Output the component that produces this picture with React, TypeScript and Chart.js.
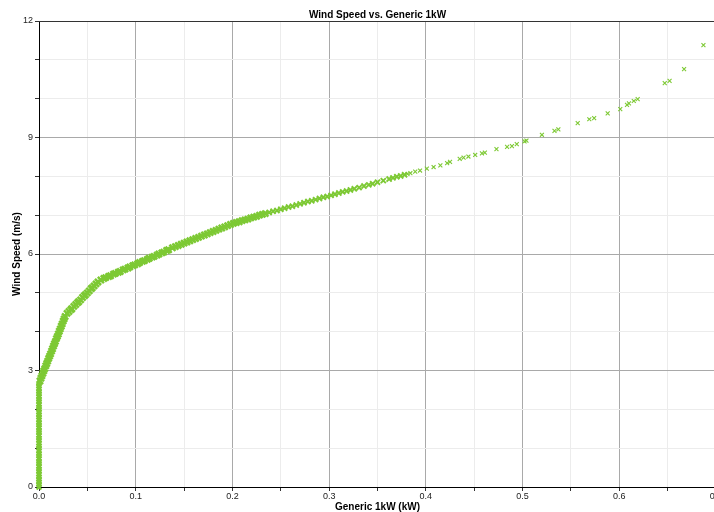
import { useEffect, useRef } from 'react';
import { Chart, registerables } from 'chart.js';

Chart.register(...registerables);

// ---- Data ----
const chartTitle = 'Wind Speed vs. Generic 1kW';
const xAxisTitle = 'Generic 1kW (kW)';
const yAxisTitle = 'Wind Speed (m/s)';

// Hours below cut-in: output 0 kW
const calmWindSpeed = [
  0.0, 0.07, 0.13, 0.2, 0.26, 0.33, 0.4, 0.46, 0.53, 0.6, 0.66, 0.73, 0.8, 0.86,
  0.93, 1.0, 1.06, 1.13, 1.2, 1.26, 1.33, 1.4, 1.46, 1.53, 1.6, 1.66, 1.73, 1.8,
  1.86, 1.93, 2.0, 2.06, 2.13, 2.2, 2.26, 2.33, 2.4, 2.46, 2.53, 2.6, 2.66,
];

const rampPower = [
  0.001, 0.002, 0.003, 0.004, 0.005, 0.006, 0.007, 0.008, 0.009, 0.01, 0.011,
  0.012, 0.013, 0.014, 0.015, 0.016, 0.017, 0.018, 0.019, 0.02, 0.021, 0.022,
  0.023, 0.024, 0.025, 0.026, 0.027, 0.029, 0.031, 0.033, 0.034, 0.036, 0.038,
  0.04, 0.041, 0.043, 0.045, 0.047, 0.048, 0.05, 0.052, 0.054, 0.055, 0.057,
  0.059, 0.061,
];
const rampWindSpeed = [
  2.73, 2.8, 2.86, 2.93, 2.99, 3.05, 3.12, 3.18, 3.24, 3.31, 3.37, 3.43, 3.5,
  3.56, 3.63, 3.69, 3.75, 3.82, 3.88, 3.94, 4.01, 4.07, 4.14, 4.2, 4.27, 4.33,
  4.39, 4.47, 4.52, 4.57, 4.59, 4.65, 4.7, 4.75, 4.77, 4.82, 4.88, 4.93, 4.95,
  5.0, 5.05, 5.11, 5.13, 5.18, 5.23, 5.28,
];

const midPower = [
  0.064, 0.067, 0.069, 0.072, 0.074, 0.077, 0.079, 0.082, 0.084, 0.087, 0.089,
  0.092, 0.094, 0.097, 0.099, 0.102, 0.104, 0.107, 0.109, 0.112, 0.114, 0.117,
  0.119, 0.122, 0.124, 0.127, 0.129, 0.132, 0.134, 0.138, 0.141, 0.144, 0.147,
  0.15, 0.153, 0.156, 0.159, 0.162, 0.165, 0.168, 0.171, 0.174, 0.177, 0.18,
  0.183, 0.186, 0.189, 0.192, 0.195, 0.198, 0.201, 0.204, 0.207, 0.21, 0.213,
  0.216, 0.219, 0.222, 0.225, 0.228, 0.231, 0.234,
];
const midWindSpeed = [
  5.33, 5.37, 5.39, 5.42, 5.44, 5.48, 5.5, 5.53, 5.55, 5.59, 5.61, 5.64, 5.67,
  5.7, 5.72, 5.75, 5.78, 5.81, 5.83, 5.86, 5.89, 5.92, 5.94, 5.97, 6.0, 6.03,
  6.05, 6.09, 6.11, 6.16, 6.19, 6.22, 6.25, 6.28, 6.31, 6.34, 6.37, 6.4, 6.43,
  6.46, 6.49, 6.52, 6.55, 6.58, 6.61, 6.64, 6.67, 6.7, 6.73, 6.76, 6.79, 6.81,
  6.83, 6.86, 6.88, 6.9, 6.93, 6.95, 6.97, 7.0, 7.02, 7.04,
];

const upperPower = [
  0.238, 0.242, 0.246, 0.25, 0.254, 0.258, 0.262, 0.266, 0.27, 0.274, 0.278,
  0.282, 0.286, 0.29, 0.294, 0.298, 0.302, 0.306, 0.31, 0.314, 0.318, 0.322,
  0.326, 0.331, 0.336, 0.341, 0.345, 0.35, 0.356, 0.362, 0.366, 0.37, 0.374,
  0.378,
];
const upperWindSpeed = [
  7.07, 7.1, 7.12, 7.15, 7.18, 7.21, 7.23, 7.26, 7.29, 7.32, 7.35, 7.37, 7.4,
  7.43, 7.46, 7.48, 7.51, 7.54, 7.57, 7.6, 7.62, 7.65, 7.68, 7.71, 7.75, 7.78,
  7.81, 7.85, 7.89, 7.93, 7.96, 7.99, 8.01, 8.04,
];

const tailPower = [
  0.381, 0.384, 0.389, 0.394, 0.401, 0.408, 0.415, 0.422, 0.425, 0.435, 0.439,
  0.444, 0.451, 0.458, 0.461, 0.473, 0.484, 0.489, 0.494, 0.502, 0.504, 0.52,
  0.533, 0.537, 0.557, 0.569, 0.574, 0.588, 0.601, 0.608, 0.61, 0.615, 0.619,
  0.647, 0.652, 0.667, 0.687,
];
const tailWindSpeed = [
  8.06, 8.08, 8.12, 8.15, 8.2, 8.24, 8.28, 8.34, 8.37, 8.45, 8.48, 8.51, 8.55,
  8.59, 8.61, 8.7, 8.76, 8.78, 8.83, 8.9, 8.92, 9.07, 9.17, 9.21, 9.37, 9.47,
  9.5, 9.62, 9.73, 9.84, 9.88, 9.94, 9.99, 10.4, 10.46, 10.76, 11.38,
];

const xMin = 0;
const xMax = 0.7;
const xStep = 0.05;
const yMin = 0;
const yMax = 12;
const yStep = 1;
const yLabelEvery = 3;

// ---- Styling ----
const FONT = "'Liberation Sans', Arial, Helvetica, sans-serif";
const POINT_COLOR = '#7dc934';
const MAJOR_GRID = '#a9a9a9';
const MINOR_GRID = '#ececec';

const pairs = (xs: number[], ys: number[]) => xs.map((x, i) => ({ x, y: ys[i] }));

const topBorderPlugin = {
  id: 'topBorder',
  beforeDatasetsDraw(chart: any) {
    const { ctx, chartArea } = chart;
    ctx.save();
    ctx.strokeStyle = '#333333';
    ctx.lineWidth = 1;
    const y = Math.round(chartArea.top) + 0.5;
    ctx.beginPath();
    ctx.moveTo(chartArea.left, y);
    ctx.lineTo(chartArea.right + 20, y);
    ctx.stroke();
    ctx.restore();
  },
};

const markerSet = (label: string, data: any[], radius: number, width: number) => ({
  label,
  data,
  pointStyle: 'crossRot' as const,
  pointRadius: radius,
  pointHoverRadius: radius,
  pointBorderWidth: width,
  borderColor: POINT_COLOR,
  backgroundColor: POINT_COLOR,
  clip: false as any,
});

export default function App() {
  const canvasRef = useRef<HTMLCanvasElement | null>(null);

  useEffect(() => {
    const canvas = canvasRef.current;
    if (!canvas) return;

    const calmData = calmWindSpeed.map((y) => ({ x: 0, y }));
    const denseData = [...pairs(rampPower, rampWindSpeed), ...pairs(midPower, midWindSpeed)];
    const upperData = pairs(upperPower, upperWindSpeed);
    const tailData = pairs(tailPower, tailWindSpeed);

    const chart = new Chart(canvas, {
      type: 'scatter',
      data: {
        datasets: [
          markerSet(yAxisTitle, calmData, 3.4, 2.2),
          markerSet(yAxisTitle, denseData, 4.3, 2.5),
          markerSet(yAxisTitle, upperData, 3.6, 1.9),
          markerSet(yAxisTitle, tailData, 2.8, 1.1),
        ],
      },
      options: {
        responsive: false,
        animation: false,
        devicePixelRatio: 1,
        events: [],
        layout: { padding: { left: 0, top: 0, right: 14, bottom: 0 } },
        plugins: {
          legend: { display: false },
          tooltip: { enabled: false },
          title: {
            display: true,
            text: chartTitle,
            fullSize: false,
            color: '#000000',
            font: { family: FONT, size: 10, weight: 'bold', lineHeight: 1.2 },
            padding: { top: 9, bottom: 0 },
          },
        },
        scales: {
          x: {
            type: 'linear',
            position: 'bottom',
            min: xMin,
            max: xMax,
            afterFit: (s: any) => {
              s.height = 25;
            },
            ticks: {
              stepSize: xStep,
              autoSkip: false,
              maxRotation: 0,
              minRotation: 0,
              padding: 0,
              color: '#222222',
              font: { family: FONT, size: 9 },
              callback: (v: any, i: number) => (i % 2 === 0 ? Number(v).toFixed(1) : ''),
            },
            grid: {
              color: (ctx: any) => (ctx.index % 2 === 0 ? MAJOR_GRID : MINOR_GRID),
              tickColor: '#333333',
              tickLength: 4,
              drawTicks: true,
            },
            border: { display: true, color: '#000000', width: 1 },
            title: {
              display: true,
              text: xAxisTitle,
              color: '#000000',
              font: { family: FONT, size: 10, weight: 'bold', lineHeight: 1 },
              padding: { top: 0, bottom: 0 },
            },
          },
          y: {
            type: 'linear',
            position: 'left',
            min: yMin,
            max: yMax,
            afterFit: (s: any) => {
              s.width = 39;
            },
            ticks: {
              stepSize: yStep,
              autoSkip: false,
              padding: 2,
              color: '#222222',
              font: { family: FONT, size: 9 },
              callback: (v: any) => (Number(v) % yLabelEvery === 0 ? String(v) : ''),
            },
            grid: {
              color: (ctx: any) =>
                ctx.tick && ctx.tick.value % yLabelEvery === 0 ? MAJOR_GRID : MINOR_GRID,
              tickColor: '#333333',
              tickLength: 4,
              drawTicks: true,
            },
            border: { display: true, color: '#000000', width: 1 },
            title: {
              display: true,
              text: yAxisTitle,
              color: '#000000',
              font: { family: FONT, size: 10, weight: 'bold', lineHeight: 1.2 },
              padding: { top: 11, bottom: 0 },
            },
          },
        },
      },
      plugins: [topBorderPlugin],
    });

    return () => chart.destroy();
  }, []);

  return (
    <div
      style={{
        position: 'fixed',
        left: 0,
        top: 0,
        width: 714,
        height: 512,
        overflow: 'hidden',
        background: '#ffffff',
      }}
    >
      <canvas ref={canvasRef} width={730} height={512} style={{ display: 'block' }} />
    </div>
  );
}
